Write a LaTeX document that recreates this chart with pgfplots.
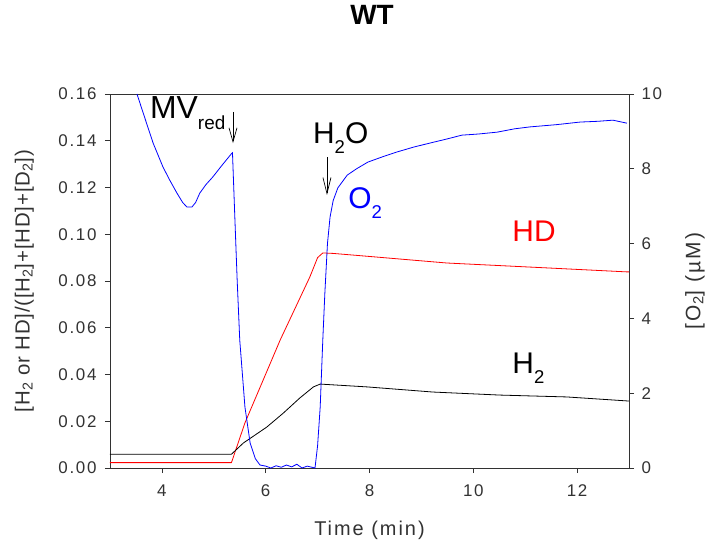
\documentclass[border=0pt]{standalone}
\usepackage{pgfplots}
\pgfplotsset{compat=1.18}
\usepackage{graphicx}
\usepackage{fontspec}
\setmainfont{Liberation Sans}
\newfontfamily\tickfont[LetterSpace=10]{Liberation Sans}
\newfontfamily\lblfont[LetterSpace=10]{Liberation Sans}
\newfontfamily\ylblfont[LetterSpace=4]{Liberation Sans}
\usetikzlibrary{arrows.meta}
\definecolor{axgray}{RGB}{50,50,50}
\definecolor{lblgray}{RGB}{50,50,50}
\newcommand\sub[1]{\raisebox{-0.36em}{\scalebox{0.62}{#1}}}
\begin{document}
\begin{tikzpicture}
\pgfplotsset{
  common/.style={
    scale only axis, width=519bp, height=374bp,
    xmin=3, xmax=13,
    axis line style={axgray, line width=0.7bp},
    tick style={axgray, line width=0.7bp},
    tick align=outside, major tick length=5bp,
    tick label style={font=\tickfont\fontsize{17}{19}\selectfont, text=lblgray},
    label style={font=\lblfont\fontsize{20}{22}\selectfont, text=lblgray},
    /pgf/number format/assume math mode=true,
  }
}
\begin{axis}[common, name=ax,
  ymin=0, ymax=0.16,
  xtick={4,6,8,10,12}, xtick pos=bottom,
  ytick={0,0.02,...,0.16}, ytick pos=left,
  yticklabel style={/pgf/number format/.cd, fixed, fixed zerofill, precision=2, /tikz/.cd, xshift=-5bp},
  xticklabel style={yshift=-8bp},
  xlabel={Time (min)},
  xlabel style={at={(axis description cs:0.5,-0.166)}, anchor=center},
  ylabel={[H\textsubscript{2} or HD]/([H\textsubscript{2}]+[HD]+[D\textsubscript{2}])},
  ylabel style={at={(axis description cs:-0.165,0.5)}, anchor=center, font=\ylblfont\fontsize{20.5}{22}\selectfont},
  title={WT},
  title style={at={(axis description cs:0.505,1.195)}, anchor=center, font=\fontsize{28}{30}\selectfont\bfseries},
  clip=false,
]
\addplot[red, line width=0.8bp] coordinates {
(3,0.0023) (5.34,0.0023) (5.60,0.0193) (6.28,0.0548) (6.85,0.0817) (7.0,0.0900) (7.10,0.0920) (7.3,0.0918) (8.0,0.0905) (9.49,0.0877) (11.42,0.0856) (12.96,0.0839) (13,0.0839)
};
\addplot[black, line width=0.8bp] coordinates {
(3,0.0059) (5.34,0.0059) (5.57,0.0107) (6.02,0.0175) (6.34,0.0235) (6.66,0.0300) (6.92,0.0347) (7.05,0.0359) (7.2,0.0357) (7.95,0.0347) (9.22,0.0325) (10.51,0.0312) (11.8,0.0304) (12.96,0.0287) (13,0.0287)
};
\node[anchor=base west, inner sep=0, font=\fontsize{32}{32}\selectfont] at (axis cs:3.77,0.1497) {MV\raisebox{-11bp}{\fontsize{19}{19}\selectfont red}};
\draw[black, line width=0.7bp, -{Straight Barb[length=14bp,width=8bp]}] (axis cs:5.37,0.1523) -- (axis cs:5.37,0.139);
\node[anchor=base west, inner sep=0, font=\fontsize{30}{30}\selectfont] at (axis cs:6.91,0.139) {H\sub{2}O};
\draw[black, line width=0.7bp, -{Straight Barb[length=16bp,width=8bp]}] (axis cs:7.18,0.133) -- (axis cs:7.18,0.1168);
\node[anchor=base west, inner sep=0, text=blue, font=\fontsize{30}{30}\selectfont] at (axis cs:7.59,0.1112) {O\sub{2}};
\node[anchor=base west, inner sep=0, text=red, font=\fontsize{30}{30}\selectfont] at (axis cs:10.75,0.0967) {HD};
\node[anchor=base west, inner sep=0, font=\fontsize{30}{30}\selectfont] at (axis cs:10.75,0.0406) {H\sub{2}};
\end{axis}
\begin{axis}[common,
  ymin=0, ymax=10,
  axis x line=none, axis y line*=right,
  ytick={0,2,...,10}, ytick pos=right,
  yticklabel style={xshift=4bp},
  ylabel={[O\textsubscript{2}] (µM)},
  ylabel style={at={(axis description cs:1.127,0.5)}, anchor=center, font=\lblfont\fontsize{21}{23}\selectfont},
]
\addplot[blue, line width=0.8bp] coordinates {
(3.52,10.0) (3.64,9.49) (3.83,8.69) (4.02,8.05) (4.15,7.70) (4.29,7.35) (4.40,7.10) (4.48,6.98) (4.58,6.98) (4.65,7.10) (4.73,7.35) (4.85,7.58) (4.98,7.78) (5.15,8.08) (5.35,8.42) (5.36,8.43) (5.40,6.9) (5.45,5.03) (5.50,3.42) (5.60,1.63) (5.70,0.67) (5.80,0.25) (5.89,0.08) (6.00,0.05) (6.10,0.0) (6.20,0.06) (6.30,0.02) (6.40,0.08) (6.50,0.03) (6.60,0.10) (6.70,0.0) (6.80,0.05) (6.95,0.0) (7.00,0.6) (7.05,1.63) (7.10,3.42) (7.14,4.68) (7.19,6.0) (7.24,6.71) (7.30,7.15) (7.39,7.49) (7.57,7.83) (7.75,8.0) (7.97,8.18) (8.25,8.32) (8.53,8.45) (8.85,8.58) (9.17,8.69) (9.50,8.80) (9.78,8.90) (10.1,8.93) (10.46,8.98) (10.8,9.07) (11.09,9.12) (11.6,9.18) (12.06,9.25) (12.4,9.27) (12.69,9.30) (12.96,9.22)
};
\end{axis}
\path ([shift={(-110bp,-86bp)}]ax.south west) rectangle ([shift={(81bp,94bp)}]ax.north east);
\end{tikzpicture}
\end{document}
